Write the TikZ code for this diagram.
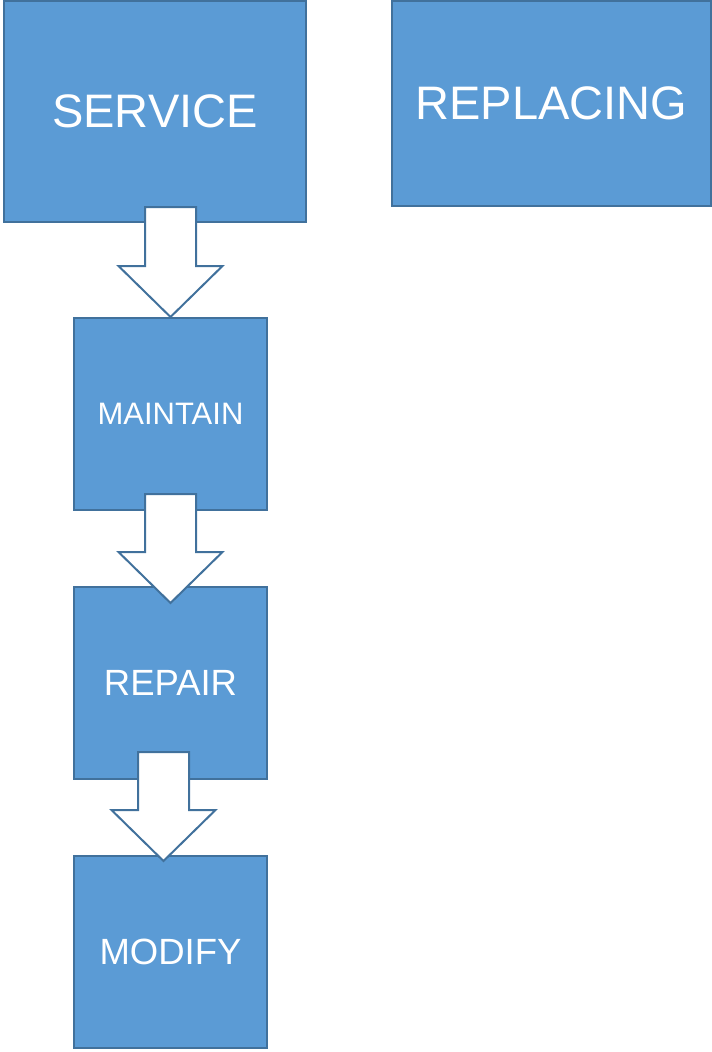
\documentclass[tikz,border=0pt]{standalone}
\usepackage{fontspec}
\setmainfont{Liberation Sans}
\usetikzlibrary{calc}
\definecolor{boxfill}{HTML}{5B9BD5}
\definecolor{boxline}{HTML}{41719C}
\begin{document}
\begin{tikzpicture}[x=1pt,y=-1pt,
  box/.style={draw=boxline,fill=boxfill,line width=2pt,text=white,inner sep=0pt,rectangle},
  blockarrow/.style={draw=boxline,fill=white,line width=2pt,line join=miter}]
\useasboundingbox (0,0) rectangle (712,1052);
\node[box,minimum width=302pt,minimum height=221pt,font=\fontsize{47}{47}\selectfont] (service) at (155,111.5) {SERVICE};
\node[box,minimum width=319pt,minimum height=205pt,font=\fontsize{47}{47}\selectfont] (replacing) at (551.5,103.5) {REPLACING};
\node[box,minimum width=193pt,minimum height=192pt,font=\fontsize{31}{31}\selectfont] (maintain) at (170.5,414) {MAINTAIN};
\node[box,minimum width=193pt,minimum height=192pt,font=\fontsize{36.5}{36.5}\selectfont] (repair) at (170.5,683) {REPAIR};
\node[box,minimum width=193pt,minimum height=192pt,font=\fontsize{36.5}{36.5}\selectfont] (modify) at (170.5,952) {MODIFY};
% block arrows: start (top of shaft) and tip coordinates
\coordinate (a1s) at ($(service.south)+(0,-16)$);
\coordinate (a1e) at (maintain.north);
\coordinate (a2s) at ($(maintain.south)+(0,-17)$);
\coordinate (a2e) at ($(repair.north)+(0,17)$);
\coordinate (a3s) at ($(repair.south)+(0,-28)$);
\coordinate (a3e) at ($(modify.north)+(-7,6)$);
\newcommand{\blockarr}[2]{%
  \draw[blockarrow] let \p1=(#1), \p2=(#2) in
    ({\x2-25.5pt},\y1) -- ({\x2+25.5pt},\y1) -- ({\x2+25.5pt},{\y2+51pt}) -- ({\x2+52pt},{\y2+51pt})
    -- (\x2,\y2) -- ({\x2-52pt},{\y2+51pt}) -- ({\x2-25.5pt},{\y2+51pt}) -- cycle;}
\blockarr{a1s}{a1e}
\blockarr{a2s}{a2e}
\blockarr{a3s}{a3e}
\end{tikzpicture}
\end{document}
